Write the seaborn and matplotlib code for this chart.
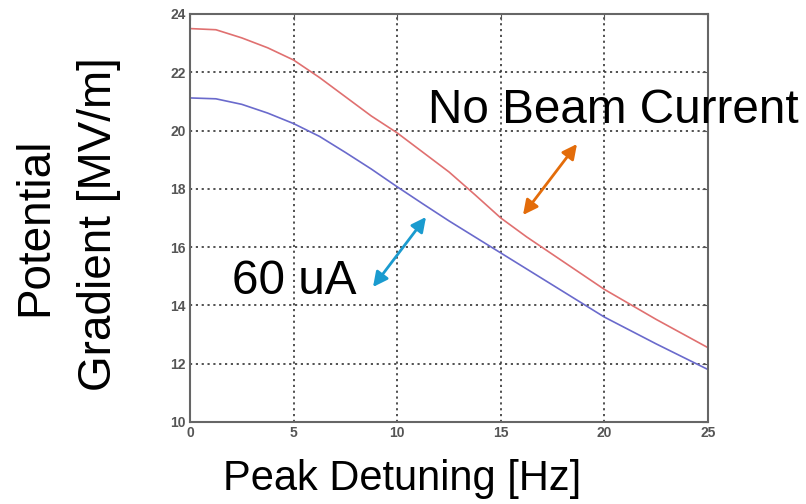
import pandas as pd
import seaborn as sns
import matplotlib.pyplot as plt

detuning = [0, 1.25, 2.5, 3.75, 5, 6.25, 7.5, 8.75, 10, 11.25, 12.5,
            13.75, 15, 16.25, 17.5, 18.75, 20, 22.5, 25]
no_beam = [23.5, 23.46, 23.18, 22.84, 22.42, 21.82, 21.16, 20.5, 19.92, 19.25,
           18.58, 17.8, 17.0, 16.35, 15.75, 15.15, 14.55, 13.52, 12.55]
beam_60ua = [21.12, 21.09, 20.9, 20.6, 20.24, 19.8, 19.25, 18.68, 18.07, 17.48,
             16.9, 16.35, 15.8, 15.25, 14.7, 14.15, 13.6, 12.68, 11.8]
x_ticks = [0, 5, 10, 15, 20, 25]
y_ticks = [10, 12, 14, 16, 18, 20, 22, 24]

df = pd.DataFrame({
    'Detuning': detuning * 2,
    'Gradient': no_beam + beam_60ua,
    'Case': ['No Beam Current'] * len(detuning) + ['60 uA'] * len(detuning),
})

sns.set_style('white')
plt.rcParams['font.family'] = ['Liberation Sans', 'DejaVu Sans']
plt.rcParams['text.color'] = 'black'

fig = plt.figure(figsize=(8.06, 5.04), dpi=100)
ax = fig.add_axes([190 / 806, 82 / 504, 518 / 806, 408 / 504])

sns.lineplot(data=df, x='Detuning', y='Gradient', hue='Case',
             palette={'No Beam Current': '#E07070', '60 uA': '#6A6ACC'},
             linewidth=1.2, legend=False, ax=ax)

ax.set_xlim(0, 25)
ax.set_ylim(10, 24)
ax.set_xticks(x_ticks)
ax.set_yticks(y_ticks)
ax.grid(True, color='#333333', linestyle=(0, (1.3, 2.2)), linewidth=1.2)
ax.tick_params(direction='in', length=4, top=True, right=True,
               labelsize=10, labelcolor='#555555', color='#555555', pad=3)
for lab in ax.get_xticklabels() + ax.get_yticklabels():
    lab.set_fontweight('bold')
for sp in ax.spines.values():
    sp.set_color('#666666')
    sp.set_linewidth(1.5)
ax.set_xlabel('')
ax.set_ylabel('')

# annotation texts and arrows
fig.text(428 / 806, 1 - 123 / 504, 'No Beam Current', fontsize=34.3,
         ha='left', va='baseline')
fig.text(232 / 806, 1 - 294 / 504, '60 uA', fontsize=34.3,
         ha='left', va='baseline')
ax.annotate('', xy=(577, 504 - 144), xytext=(523, 504 - 215),
            xycoords='figure pixels', textcoords='figure pixels',
            arrowprops=dict(arrowstyle='<|-|>', color='#E36C0A', lw=2,
                            mutation_scale=22, shrinkA=0, shrinkB=0))
ax.annotate('', xy=(426, 504 - 217), xytext=(373, 504 - 287),
            xycoords='figure pixels', textcoords='figure pixels',
            arrowprops=dict(arrowstyle='<|-|>', color='#1A9BCF', lw=2,
                            mutation_scale=22, shrinkA=0, shrinkB=0))

# axis labels
fig.text(402 / 806, 1 - 490 / 504, 'Peak Detuning [Hz]', fontsize=30,
         ha='center', va='baseline')
fig.text(35 / 806, 1 - 227 / 504, 'Potential', fontsize=33,
         rotation=90, ha='center', va='center')
fig.text(99 / 806, 1 - 224 / 504, 'Gradient [MV/m]', fontsize=33,
         rotation=90, ha='center', va='center')

fig.savefig('out.png', dpi=100)
